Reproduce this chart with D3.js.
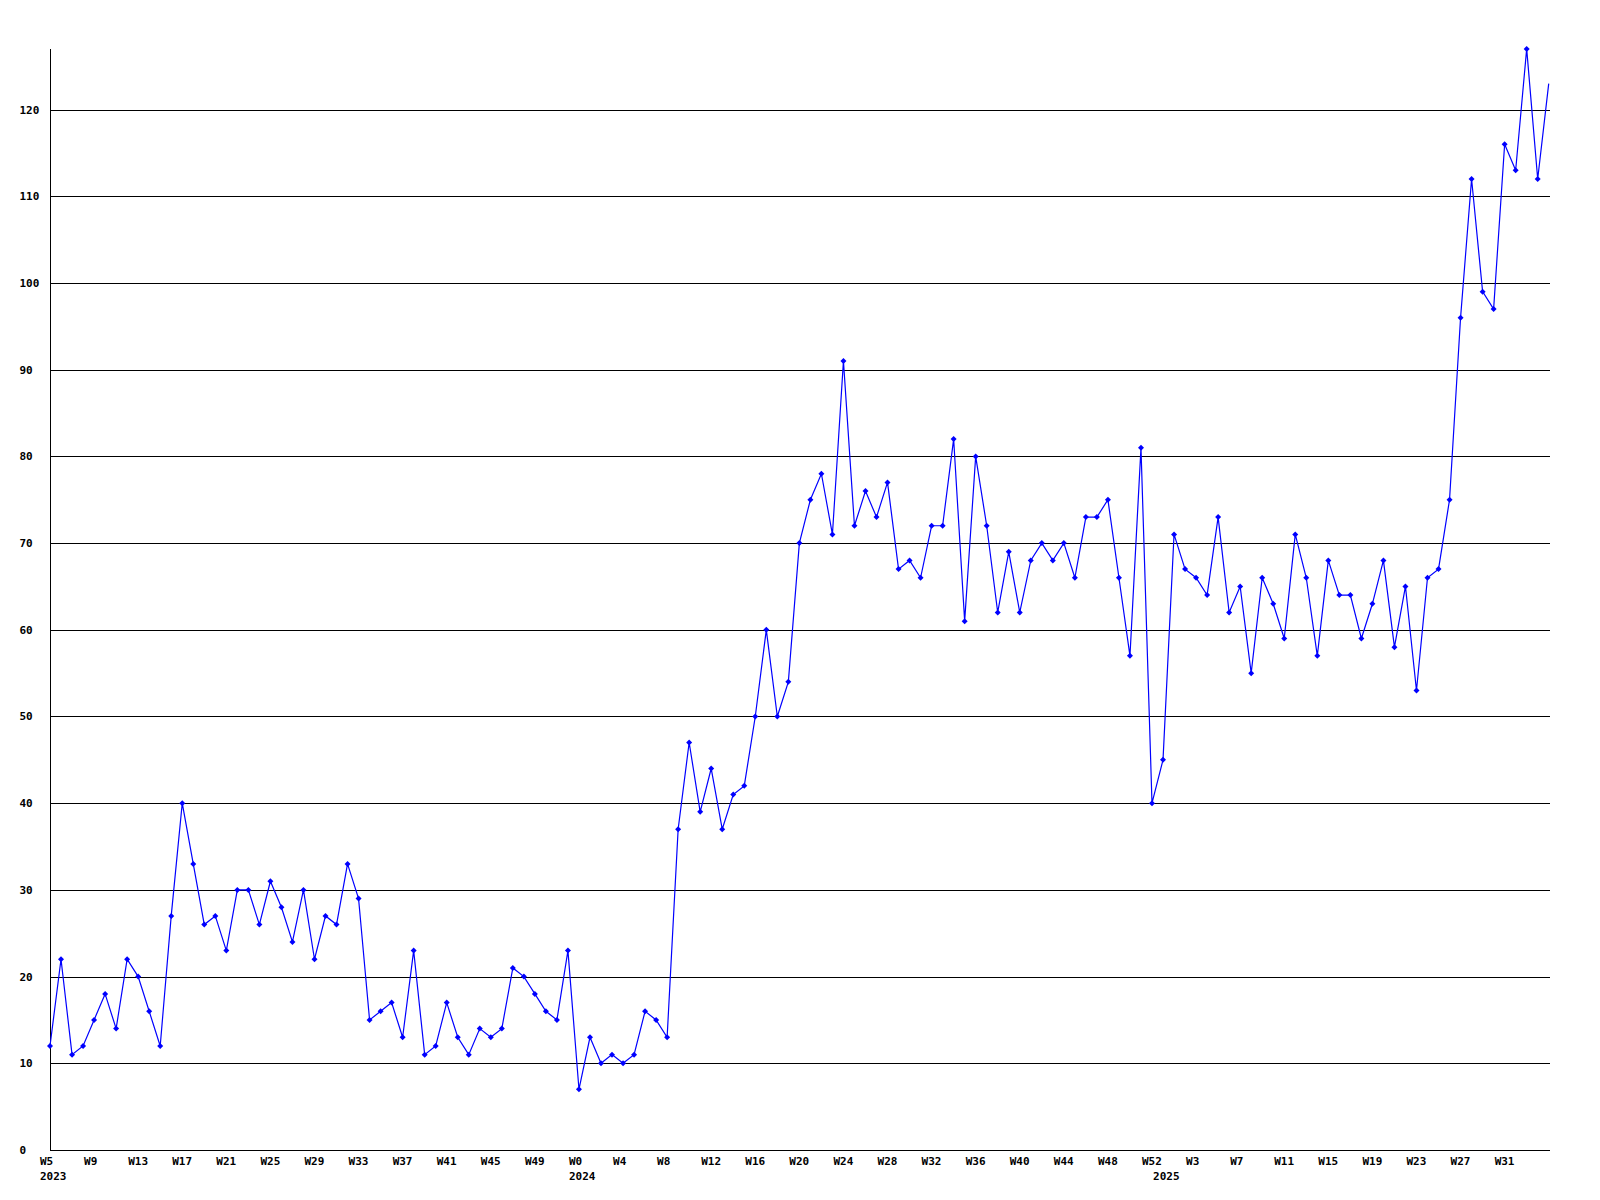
<!DOCTYPE html>
<html>
<head>
<meta charset="utf-8">
<script src="https://cdn.jsdelivr.net/npm/d3@7"></script>
<style>
  html, body { margin: 0; padding: 0; background: #fff; }
  svg text { font-family: "DejaVu Sans Mono", "Liberation Mono", monospace; font-weight: bold; font-size: 11px; fill: #000; }
</style>
</head>
<body>
<svg id="chart" width="1600" height="1200"></svg>
<script>
// ---- data ----
const weekRanges = [[2023, 5, 52], [2024, 0, 52], [2025, 0, 35]]; // year, first week, last week
const values = [
  12, 22, 11, 12, 15, 18, 14, 22, 20, 16, 12, 27, 40, 33, 26, 27, 23, 30, 30, 26, 31, 28, 24, 30, 22, 27, 26,
  33, 29, 15, 16, 17, 13, 23, 11, 12, 17, 13, 11, 14, 13, 14, 21, 20, 18, 16, 15, 23, 7, 13, 10, 11,
  10, 11, 16, 15, 13, 37, 47, 39, 44, 37, 41, 42, 50, 60, 50, 54,
  70, 75, 78, 71, 91, 72, 76, 73, 77, 67, 68, 66, 72, 72, 82, 61, 80, 72, 62, 69,
  62, 68, 70, 68, 70, 66, 73, 73, 75, 66, 57, 81, 40, 45, 71, 67, 66, 64,
  73, 62, 65, 55, 66, 63, 59, 71, 66, 57, 68, 64, 64, 59, 63, 68, 58, 65, 53, 66,
  67, 75, 96, 112, 99, 97, 116, 113, 127, 112, 123
];
const yTicks = [0, 10, 20, 30, 40, 50, 60, 70, 80, 90, 100, 110, 120];
const tickEvery = 4;

// categories built from the week ranges
const categories = [];
weekRanges.forEach(([yr, w0, w1]) => {
  for (let w = w0; w <= w1; w++) categories.push({ year: yr, week: w, first: w === w0 });
});
const data = categories.map((c, i) => ({ ...c, i, value: values[i] }));
const lastIdx = data.length - 1;

// ---- layout ----
const svg = d3.select("#chart");
const plotL = 50, plotR = 1550, plotB = 1150, plotT = 49;
const x = d3.scaleLinear().domain([0, lastIdx]).range([plotL, plotL + lastIdx * 11.02]);
const y = d3.scaleLinear().domain([0, 120]).range([plotB, 109.6]);

// grid lines
svg.append("g").selectAll("line").data(yTicks).join("line")
  .attr("x1", plotL).attr("x2", plotR)
  .attr("y1", d => Math.round(y(d)) + 0.5).attr("y2", d => Math.round(y(d)) + 0.5)
  .attr("stroke", "#000").attr("stroke-width", 1);

// y axis line
svg.append("line").attr("x1", plotL + 0.5).attr("x2", plotL + 0.5)
  .attr("y1", plotT).attr("y2", plotB + 0.5).attr("stroke", "#000");

// y labels (left aligned)
svg.append("g").selectAll("text").data(yTicks).join("text")
  .attr("x", 19.5).attr("y", d => Math.round(y(d)) + 4)
  .text(d => d);

// x week labels (none for the final, partial week)
const ticks = data.filter(d => d.i % tickEvery === 0 && d.i < lastIdx);
svg.append("g").selectAll("text").data(ticks).join("text")
  .attr("x", d => x(d.i) - 10).attr("y", 1165)
  .text(d => "W" + d.week);

// year labels
svg.append("g").selectAll("text").data(data.filter(d => d.first)).join("text")
  .attr("x", d => x(d.i) - 10).attr("y", 1180)
  .text(d => d.year);

// line
const line = d3.line().x(d => x(d.i)).y(d => y(d.value));
svg.append("path").datum(data).attr("d", line)
  .attr("fill", "none").attr("stroke", "#0000ff").attr("stroke-width", 1.2);

// markers (last, partial week has none)
svg.append("g").selectAll("path").data(data.slice(0, -1)).join("path")
  .attr("transform", d => `translate(${x(d.i)},${y(d.value)})`)
  .attr("d", "M0,-3L3,0L0,3L-3,0Z")
  .attr("fill", "#0000ff");
</script>
</body>
</html>
